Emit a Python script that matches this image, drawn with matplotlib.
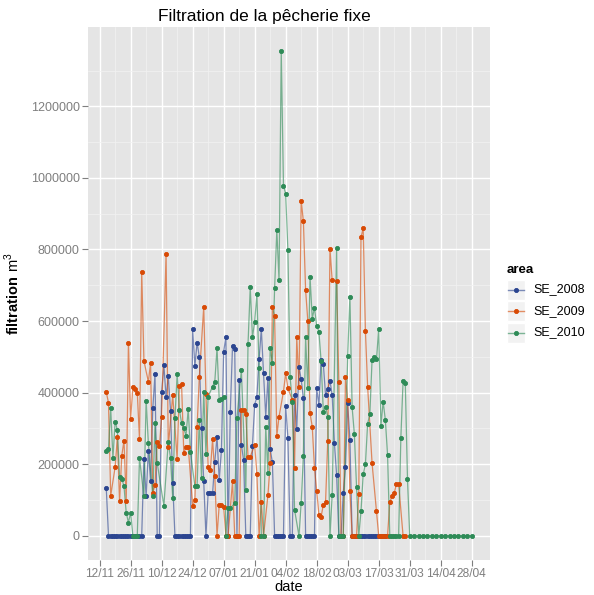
import numpy as np
import matplotlib
matplotlib.use('Agg')
import matplotlib.pyplot as plt
import matplotlib.dates as mdates
from matplotlib.lines import Line2D
from matplotlib.patches import Rectangle

plt.rcParams['font.family'] = ['Liberation Sans', 'DejaVu Sans']
plt.rcParams['mathtext.fontset'] = 'custom'
plt.rcParams['mathtext.rm'] = 'Liberation Sans'
plt.rcParams['mathtext.bf'] = 'Liberation Sans:bold'

# season start (first x tick), days are counted from it
START = np.datetime64('2011-11-12')

# SE_2008 : days since 12/11, filtration in thousand m3
days_2008 = [3, 4, 5, 6, 7, 8, 9, 10, 11, 12, 13, 14, 15, 16, 17, 18, 19, 20, 21, 22,
             23, 24, 25, 26, 27, 28, 29, 30, 31, 32, 33, 34, 35, 36, 37, 38, 39, 40, 41, 42,
             43, 44, 45, 46, 47, 48, 49, 50, 51, 52, 53, 54, 55, 56, 57, 58, 59, 60, 61, 62,
             63, 64, 65, 66, 67, 68, 69, 70, 71, 72, 73, 74, 75, 76, 77, 78, 79, 80, 81, 82,
             83, 84, 85, 86, 87, 88, 89, 90, 91, 92, 93, 94, 95, 96, 97, 98, 99, 100, 101, 102,
             103, 104, 105, 106, 107, 108, 109, 110, 111, 112, 113, 114, 115, 116, 117, 118, 119, 120, 121, 122,
             123, 124, 125, 126, 127, 128, 129]
filt_2008 = [133, 0, 0, 0, 0, 0, 0, 0, 0, 0, 0, 0, 0, 0, 0, 0, 0, 214, 110, 238,
             154, 356, 451, 0, 0, 401, 477, 387, 447, 350, 147, 0, 0, 0, 0, 0, 0, 0, 0, 578,
             474, 540, 500, 300, 152, 0, 119, 119, 119, 207, 277, 156, 240, 514, 556, 0, 347, 530, 521, 0,
             435, 254, 212, 0, 0, 0, 252, 366, 389, 493, 578, 454, 333, 442, 242, 205, 0, 0, 0, 0,
             0, 364, 273, 0, 0, 393, 298, 472, 437, 384, 0, 0, 0, 0, 0, 412, 366, 491, 480, 393,
             410, 433, 393, 259, 170, 0, 0, 120, 193, 370, 268, 0, 0, 0, 0, 0, 0, 0, 0, 0,
             0, 0, 0, 0, 0, 0, 0]

# SE_2009
days_2009 = [3, 4, 5, 7, 8, 9, 10, 11, 12, 13, 14, 15, 16, 17, 18, 19, 20, 22, 23, 24,
             25, 26, 27, 28, 30, 31, 33, 35, 36, 37, 38, 39, 40, 42, 43, 44, 45, 47, 48, 49,
             50, 51, 52, 53, 54, 55, 56, 57, 58, 60, 61, 62, 63, 64, 65, 66, 67, 68, 70, 71,
             72, 73, 74, 76, 77, 78, 79, 80, 81, 83, 84, 85, 87, 88, 89, 90, 91, 92, 93, 94,
             95, 96, 97, 98, 99, 100, 101, 102, 103, 104, 105, 107, 108, 109, 110, 111, 112, 113, 114, 115,
             116, 117, 118, 119, 120, 121, 123, 125, 126, 127, 128, 129, 130, 131, 132, 133, 134, 135, 137, 138]
filt_2009 = [401, 372, 112, 192, 275, 96, 224, 266, 96, 540, 326, 416, 410, 400, 270, 738, 489, 430, 483, 119,
             143, 263, 250, 333, 787, 249, 393, 214, 419, 423, 231, 249, 249, 84, 99, 303, 443, 639, 396, 193,
             184, 270, 167, 0, 86, 86, 80, 0, 0, 152, 0, 0, 0, 352, 352, 340, 221, 221, 254, 173,
             0, 93, 0, 114, 203, 638, 614, 279, 333, 403, 454, 412, 380, 189, 555, 417, 936, 879, 686, 600,
             342, 305, 189, 126, 59, 53, 87, 93, 266, 800, 714, 712, 431, 0, 0, 443, 380, 126, 0, 0,
             0, 117, 834, 859, 572, 417, 203, 68, 0, 0, 0, 0, 0, 93, 112, 120, 144, 145, 0, 0]

# SE_2010
days_2010 = [3, 4, 5, 6, 7, 8, 9, 10, 11, 12, 13, 14, 15, 16, 17, 18, 20, 21, 22, 24,
             25, 26, 29, 31, 32, 33, 34, 35, 36, 37, 38, 39, 40, 41, 43, 44, 45, 46, 47, 48,
             49, 51, 52, 53, 54, 55, 56, 57, 58, 59, 61, 62, 64, 66, 67, 68, 69, 70, 71, 72,
             73, 74, 75, 76, 77, 78, 79, 80, 81, 82, 83, 84, 85, 86, 87, 88, 90, 91, 92, 93,
             94, 95, 96, 97, 98, 99, 100, 101, 102, 103, 104, 105, 107, 108, 109, 110, 112, 113, 114, 115,
             116, 117, 118, 119, 120, 121, 122, 123, 124, 125, 126, 127, 128, 129, 130, 131, 132, 133, 134, 135,
             136, 137, 138, 139, 140, 142, 144, 146, 148, 150, 152, 154, 156, 158, 160, 162, 164, 166, 168]
filt_2010 = [238, 242, 356, 217, 319, 296, 165, 160, 138, 65, 37, 65, 0, 0, 0, 217, 110, 378, 259, 110,
             315, 203, 84, 263, 217, 105, 328, 451, 352, 315, 300, 280, 354, 235, 138, 138, 324, 161, 403, 229,
             389, 417, 431, 524, 380, 382, 389, 0, 77, 77, 91, 328, 463, 128, 536, 694, 555, 598, 675, 468,
             0, 0, 305, 175, 524, 484, 691, 854, 714, 1354, 978, 956, 798, 443, 375, 73, 0, 91, 223, 555,
             412, 724, 607, 637, 586, 570, 488, 347, 360, 333, 0, 114, 803, 0, 0, 0, 502, 668, 359, 285,
             136, 0, 68, 172, 200, 313, 340, 491, 500, 493, 578, 308, 375, 324, 226, 0, 0, 0, 0, 0,
             274, 432, 428, 158, 0, 0, 0, 0, 0, 0, 0, 0, 0, 0, 0, 0, 0, 0, 0]

areas = ['SE_2008', 'SE_2009', 'SE_2010']
colors = ['#2B4590', '#D84A05', '#2E8B57']
series_days = [days_2008, days_2009, days_2010]
series_vals = [filt_2008, filt_2009, filt_2010]

W, H = 594, 595
fig = plt.figure(figsize=(W / 100, H / 100), dpi=100)
ax = fig.add_axes([88 / W, 1 - 560 / H, (490 - 88) / W, (560 - 27) / H])
ax.set_facecolor('#E5E5E5')
for s in ax.spines.values():
    s.set_visible(False)

# lines first, points on top (geom_line + geom_point)
for d, v, c in zip(series_days, series_vals, colors):
    x = START + np.array(d).astype('timedelta64[D]')
    ax.plot(x, np.array(v) * 1000, color=c, lw=0.9, alpha=0.6, zorder=3)
for d, v, c in zip(series_days, series_vals, colors):
    x = START + np.array(d).astype('timedelta64[D]')
    ax.plot(x, np.array(v) * 1000, ls='none', marker='o', ms=3.0, mew=0.6,
            color=c, mec=c, zorder=4)

# axis limits with ggplot-like 5% expansion
xmin, xmax = 3, 168
xpad = (xmax - xmin) * 0.05
ax.set_xlim(START + np.timedelta64(int(round((xmin - xpad) * 24)), 'h'),
            START + np.timedelta64(int(round((xmax + xpad) * 24)), 'h'))
ymax = 1354000
ax.set_ylim(-0.05 * ymax, 1.05 * ymax)

xticks = START + np.arange(0, 169, 14).astype('timedelta64[D]')
ax.set_xticks(xticks)
ax.set_xticks(START + np.arange(7, 169, 14).astype('timedelta64[D]'), minor=True)
ax.xaxis.set_major_formatter(mdates.DateFormatter('%d/%m'))
ax.set_yticks(np.arange(0, 1200001, 200000))
ax.set_yticks(np.arange(100000, 1400001, 200000), minor=True)
ax.set_yticklabels([str(int(t)) for t in np.arange(0, 1200001, 200000)])

ax.grid(which='major', color='white', lw=1.0, zorder=1)
ax.grid(which='minor', color='#F2F2F2', lw=0.5, zorder=1)
ax.set_axisbelow(True)
ax.tick_params(which='major', length=4, width=0.8, color='#7F7F7F', labelcolor='#7F7F7F',
               labelsize=9, pad=2)
ax.tick_params(axis='x', which='major', labelsize=8.6)
ax.tick_params(which='minor', length=0)

ax.set_xlabel('date', fontsize=10.5, labelpad=0)
ax.set_ylabel(r'$\mathbf{filtration}\ \mathrm{m}^{3}$', fontsize=10.5, labelpad=6)
fig.text(264 / W, 1 - 16 / H, 'Filtration de la pêcherie fixe',
         ha='center', va='center', fontsize=12.5)

# legend drawn by hand (ggplot style keys)
fig.text(507 / W, 1 - 270 / H, 'area', fontsize=9.5, fontweight='bold', va='center')
for i, (name, c) in enumerate(zip(areas, colors)):
    cy = 289.5 + 21.5 * i
    fig.patches.append(Rectangle((507 / W, 1 - (cy + 10) / H), 18 / W, 20 / H,
                                 transform=fig.transFigure, facecolor='#F2F2F2',
                                 edgecolor='white', lw=1))
    fig.lines.append(Line2D([508 / W, 524 / W], [1 - cy / H, 1 - cy / H], color=c,
                            lw=1.0, alpha=0.6, transform=fig.transFigure))
    fig.lines.append(Line2D([516 / W], [1 - cy / H], color=c, marker='o', ms=3.0, mew=0.6,
                            transform=fig.transFigure))
    fig.text(533 / W, 1 - cy / H, name, fontsize=9, va='center')

fig.savefig('out.png', dpi=100)
